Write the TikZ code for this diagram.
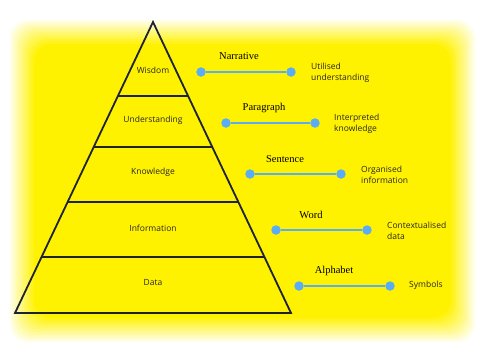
\documentclass[tikz,border=0pt]{standalone}
\usepackage{fontspec}
\usetikzlibrary{calc}
\setmainfont{Open Sans}
\newfontfamily\stagefont{Liberation Serif}
\definecolor{dotblue}{HTML}{5AADF5}
\definecolor{edgenavy}{HTML}{1E2235}

\tikzset{
  level/.style={font=\fontsize{8.5}{10}\selectfont, text=black!85},
  stage/.style={font=\stagefont\fontsize{10.5}{12}\selectfont, text=black},
  meaning/.style={font=\fontsize{8.5}{10.5}\selectfont, text=black!85, align=left, anchor=west, inner sep=0pt},
  dot/.style={circle, fill=dotblue, inner sep=0pt, minimum size=9.5pt},
  link/.style={dotblue, line width=2.2pt}
}

\begin{document}
\begin{tikzpicture}[x=1pt, y=-1pt]
    \useasboundingbox (0,0) rectangle (480,360);

    % Fond jaune aux bords flous
    \foreach \k in {0,...,10} {
        \pgfmathtruncatemacro{\mix}{9*\k+10}
        \fill[yellow!\mix!white, rounded corners=18] (10+2.4*\k,20+2.4*\k) rectangle (475-2.4*\k,342-2.4*\k);
    }

    % Sommets de la pyramide
    \coordinate (apex) at (153,22);
    \coordinate (baseL) at (15,313);
    \coordinate (baseR) at (291,313);

    % Contour de la pyramide
    \draw[edgenavy, line width=1.8pt, line join=miter] (baseL) -- (apex) -- (baseR) -- cycle;

    % Séparations entre niveaux
    \foreach \t in {0.254, 0.430, 0.619, 0.808}
        \draw[edgenavy, line width=1.8pt] ($(apex)!\t!(baseL)$) -- ($(apex)!\t!(baseR)$);

    % Niveaux
    \node[level] (wisdom) at (153,70) {Wisdom};
    \node[level] (understanding) at (153,120) {Understanding};
    \node[level] (knowledge) at (153,172) {Knowledge};
    \node[level] (information) at (153,228) {Information};
    \node[level] (data) at (153,283) {Data};

    % Narrative
    \node[dot] (narrativeA) at (201,72) {};
    \node[dot] (narrativeB) at (291,72) {};
    \draw[link] (narrativeA) -- (narrativeB);
    \node[stage] (narrative) at (239,56) {Narrative};
    \node[meaning] (utilised) at (311,73) {Utilised\\understanding};

    % Paragraph
    \node[dot] (paragraphA) at (226,123) {};
    \node[dot] (paragraphB) at (315,123) {};
    \draw[link] (paragraphA) -- (paragraphB);
    \node[stage] (paragraph) at (264,108) {Paragraph};
    \node[meaning] (interpreted) at (334,124) {Interpreted\\knowledge};

    % Sentence
    \node[dot] (sentenceA) at (250,174) {};
    \node[dot] (sentenceB) at (341,174) {};
    \draw[link] (sentenceA) -- (sentenceB);
    \node[stage] (sentence) at (285,159) {Sentence};
    \node[meaning] (organised) at (361,175) {Organised\\information};

    % Word
    \node[dot] (wordA) at (276,230) {};
    \node[dot] (wordB) at (367,230) {};
    \draw[link] (wordA) -- (wordB);
    \node[stage] (word) at (311,215) {Word};
    \node[meaning] (contextualised) at (387,231) {Contextualised\\data};

    % Alphabet
    \node[dot] (alphabetA) at (299,286) {};
    \node[dot] (alphabetB) at (390,286) {};
    \draw[link] (alphabetA) -- (alphabetB);
    \node[stage] (alphabet) at (334,271) {Alphabet};
    \node[meaning] (symbols) at (409,285) {Symbols};

\end{tikzpicture}
\end{document}
